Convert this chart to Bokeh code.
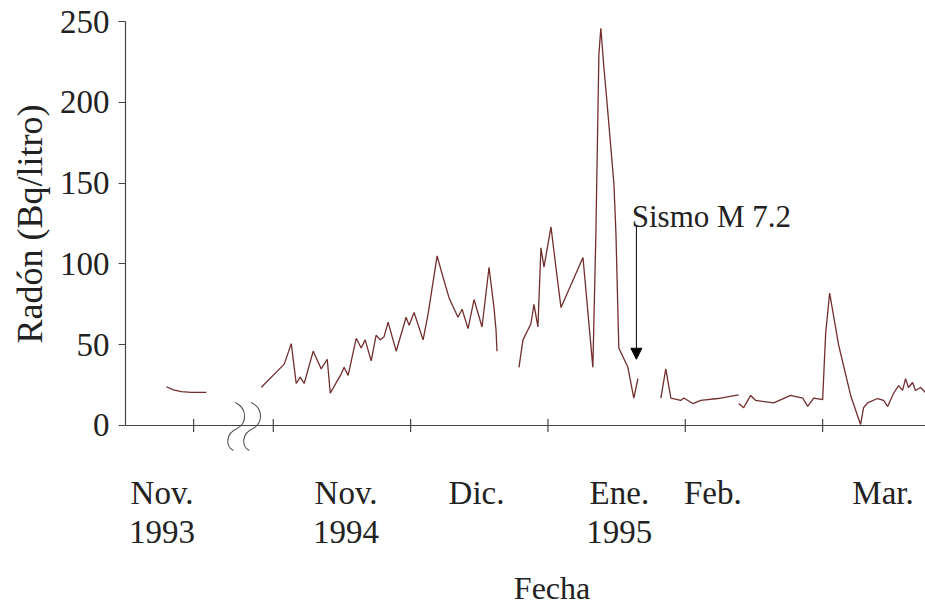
from bokeh.plotting import figure
from bokeh.models import (FixedTicker, Span, Arrow, NormalHead, Label, Range1d, Title)
from bokeh.core.properties import value
from bokeh.embed import file_html
from bokeh.resources import INLINE

# x in months since Nov. 1994 (Nov 1994 = 0, Dic = 1, Ene 1995 = 2, Feb = 3, Mar = 4)
seg1_x = [-0.778, -0.727, -0.669, -0.596, -0.487]
seg1_y = [24, 22, 21, 20.5, 20.5]

seg2_x = [-0.087, 0.080, 0.131, 0.167, 0.196, 0.225, 0.291, 0.349, 0.393, 0.415,
          0.495, 0.516, 0.545, 0.604, 0.640, 0.669, 0.713, 0.749, 0.778, 0.807,
          0.836, 0.895, 0.967, 0.989, 1.025, 1.091, 1.127, 1.193, 1.222, 1.280,
          1.345, 1.375, 1.418, 1.462, 1.520, 1.571, 1.607, 1.622, 1.629]
seg2_y = [23.7, 38, 50.7, 26, 30, 26, 46, 35, 41, 20,
          32, 36, 31, 54, 48, 53, 40, 56, 53, 55,
          64, 46, 67, 62, 70, 53, 69, 105, 96, 79,
          67, 72, 60, 78, 61, 98, 73, 59, 46]

seg3_x = [1.789, 1.818, 1.876, 1.898, 1.927, 1.949, 1.971, 2.022, 2.058, 2.095,
          2.255, 2.327, 2.349, 2.371, 2.385, 2.407, 2.429, 2.480, 2.495, 2.516,
          2.582, 2.625, 2.655]
seg3_y = [36, 53, 63, 75, 61, 110, 98, 123, 98, 73,
          104, 36, 119, 230, 246, 222, 201, 150, 119, 48,
          36, 17, 29]

seg4_x = [2.822, 2.858, 2.895, 2.967, 2.989, 3.055, 3.113, 3.236, 3.389]
seg4_y = [17, 35, 17, 15.5, 17, 13.6, 15.5, 16.7, 19]

seg5_x = [3.389, 3.425, 3.476, 3.513, 3.644, 3.767, 3.855, 3.891, 3.935, 4.0,
          4.022, 4.051, 4.116, 4.204, 4.276, 4.298, 4.327, 4.400, 4.444, 4.473,
          4.516, 4.553, 4.582, 4.604, 4.625, 4.655, 4.676, 4.713, 4.749]
seg5_y = [13.6, 11, 18.6, 15.5, 14, 18.6, 17, 11.8, 17, 16,
          57, 82, 50, 18.6, 0.6, 11, 14, 16.7, 15.5, 11.8,
          19.8, 24.7, 21.7, 29, 23.5, 26.6, 21.7, 23.5, 20.4]

segments = [(seg1_x, seg1_y), (seg2_x, seg2_y), (seg3_x, seg3_y),
            (seg4_x, seg4_y), (seg5_x, seg5_y)]

x_tick_marks = [-0.58, 0, 1, 2, 3, 4]
month_pos = [-0.81, 0.53, 1.48, 2.52, 3.2, 4.44]
month_text = ["Nov.", "Nov.", "Dic.", "Ene.", "Feb.", "Mar."]
year_pos = [-0.81, 0.53, 2.52]
year_text = ["1993", "1994", "1995"]
y_ticks = [0, 50, 100, 150, 200, 250]

quake_x = 2.644
quake_label = "Sismo M 7.2"

# axis-break decoration (two S-shaped marks)
brk_x0 = [-0.276, -0.262, -0.160, -0.146]
brk_y0 = [14.2, -1.9, 14.2, -1.9]
brk_cx0 = [-0.189, -0.349, -0.073, -0.233]
brk_cy0 = [10.5, -4.95, 10.5, -4.95]
brk_cx1 = [-0.189, -0.349, -0.073, -0.233]
brk_cy1 = [1.9, -13, 1.9, -13]
brk_x1 = [-0.262, -0.291, -0.146, -0.175]
brk_y1 = [-1.9, -15.5, -1.9, -15.5]

# layout constants (label positions, in y units below the axis)
MONTH_BASE = -42.1
YEAR_BASE = -65.7
XTITLE_BASE = -100.4
XTITLE_X = 2.03

FONT = "Liberation Serif, Times New Roman, serif"
AX = "#444444"
TXT = "#222222"
LINE = "#722e2e"

p = figure(width=925, height=607, output_backend="svg", toolbar_location=None,
           x_range=Range1d(-1.076, 4.749), y_range=Range1d(-112.7, 252),
           min_border_left=124, min_border_right=0, min_border_top=18,
           min_border_bottom=0, x_axis_location=None)
p.outline_line_color = None
p.grid.visible = False

for xs, ys in segments:
    p.line(xs, ys, line_color=LINE, line_width=1.3)

# x axis line and tick marks at y = 0
p.add_layout(Span(location=0, dimension="width", line_color=AX, line_width=1.2))
p.segment(x0=x_tick_marks, y0=[-4] * len(x_tick_marks),
          x1=x_tick_marks, y1=[4] * len(x_tick_marks),
          line_color=AX, line_width=1.2)

p.bezier(x0=brk_x0, y0=brk_y0, x1=brk_x1, y1=brk_y1,
         cx0=brk_cx0, cy0=brk_cy0, cx1=brk_cx1, cy1=brk_cy1,
         line_color="#555555", line_width=1.1)

# x labels
p.text(x=month_pos, y=[MONTH_BASE] * len(month_pos), text=month_text,
       text_font=value(FONT), text_font_size="33px", text_color=TXT,
       text_align="center", text_baseline="alphabetic")
p.text(x=year_pos, y=[YEAR_BASE] * len(year_pos), text=year_text,
       text_font=value(FONT), text_font_size="33px", text_color=TXT,
       text_align="center", text_baseline="alphabetic")
p.add_layout(Label(x=XTITLE_X, y=XTITLE_BASE, text="Fecha", text_font=FONT,
                   text_font_size="32px", text_color=TXT,
                   text_align="center", text_baseline="alphabetic"))

# y axis
ya = p.yaxis[0]
ya.ticker = FixedTicker(ticks=y_ticks)
ya.bounds = (0, 250)
ya.axis_line_color = AX
ya.axis_line_width = 1.2
ya.major_tick_line_color = AX
ya.major_tick_out = 7
ya.major_tick_in = 0
ya.minor_tick_line_color = None
ya.major_label_standoff = 9
ya.major_label_text_font = FONT
ya.major_label_text_font_size = "33px"
ya.major_label_text_color = TXT

p.add_layout(Title(text="Radón (Bq/litro)", align="left", offset=264,
                   text_font=FONT, text_font_size="36px",
                   text_font_style="normal", text_color=TXT, standoff=14),
             "left")

p.add_layout(Arrow(end=NormalHead(size=11, fill_color="black", line_color="black"),
                   x_start=quake_x, y_start=124, x_end=quake_x, y_end=41,
                   line_color="black", line_width=1))
p.add_layout(Label(x=2.61, y=129.4, text=quake_label, text_font=FONT,
                   text_font_size="31px", text_color=TXT,
                   text_baseline="alphabetic"))

open("out.html", "w").write(file_html(p, INLINE))
